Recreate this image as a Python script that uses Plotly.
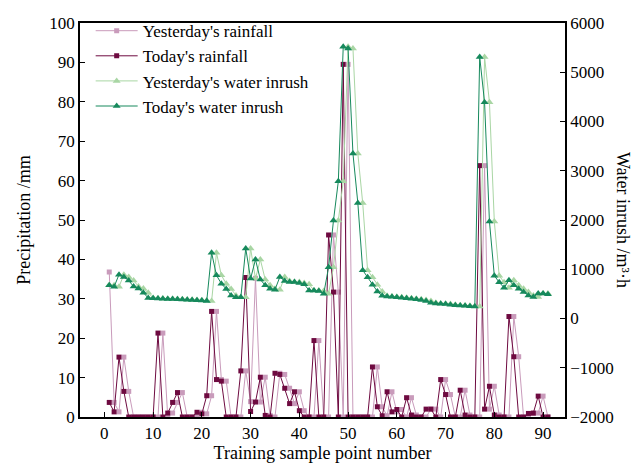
import plotly.graph_objects as go

x_points = list(range(1, 92))

today_rain = [3.7, 1.3, 15.2, 6.5, 0, 0, 0, 0, 0, 0,
              21.3, 0, 1.0, 3.7, 6.2, 0, 0, 0, 1.2, 0.8,
              5.4, 26.8, 9.5, 9.1, 0, 0, 0, 11.7, 35.4, 1.4,
              3.8, 10.1, 0.4, 0, 11.1, 10.8, 7.3, 3.4, 6.4, 1.6,
              0, 0, 19.4, 0, 0, 46.2, 31.7, 0, 89.5, 0,
              0, 0, 0, 0, 12.7, 2.6, 0.3, 6.4, 1.3, 1.9,
              0, 4.9, 0.5, 0, 0, 2.0, 2.0, 0, 9.5, 5.7,
              0, 0, 6.8, 0.5, 0, 0, 63.8, 2.0, 7.8, 0.5,
              0, 0, 25.5, 15.3, 0, 0, 0.9, 1.0, 5.3, 0,
              0]
yesterday_rain = [36.8, 3.7, 1.3, 15.2, 6.5, 0, 0, 0, 0, 0,
                  0, 21.3, 0, 1.0, 3.7, 6.2, 0, 0, 0, 1.2,
                  0.8, 5.4, 26.8, 9.5, 9.1, 0, 0, 0, 11.7, 3.9,
                  35.2, 3.8, 10.1, 0.4, 0, 11.1, 10.8, 7.3, 3.4, 6.4,
                  1.6, 0, 0, 19.4, 0, 0, 46.2, 31.7, 0, 89.5,
                  0, 0, 0, 0, 0, 12.7, 2.6, 0.3, 6.4, 1.3,
                  1.9, 0, 4.9, 0.5, 0, 0, 2.0, 2.0, 0, 9.5,
                  5.7, 0, 0, 6.8, 0.5, 0, 0, 63.8, 2.0, 7.8,
                  0.5, 0, 0, 25.5, 15.3, 0, 0, 0.9, 1.0, 5.3,
                  0]

today_inrush = [673, 645, 890, 844, 770, 650, 610, 525, 415, 410,
                405, 400, 398, 395, 390, 385, 380, 375, 370, 365,
                355, 1335, 877, 708, 600, 469, 430, 430, 1423, 810,
                1198, 790, 673, 605, 585, 844, 760, 742, 740, 721,
                694, 571, 571, 557, 505, 1040, 1990, 2788, 5516, 5480,
                3348, 2345, 981, 836, 683, 550, 460, 445, 440, 430,
                420, 410, 400, 390, 375, 355, 320, 305, 300, 295,
                280, 270, 265, 258, 250, 245, 5311, 4390, 1969, 870,
                735, 626, 776, 673, 605, 537, 469, 435, 510, 510,
                490]
yesterday_inrush = [680, 673, 645, 890, 844, 770, 650, 610, 525, 415,
                    410, 405, 400, 398, 395, 390, 385, 380, 375, 370,
                    365, 355, 1335, 877, 708, 600, 469, 430, 430, 1423,
                    810, 1198, 790, 673, 605, 585, 844, 760, 742, 740,
                    721, 694, 571, 571, 557, 505, 1040, 1990, 2788, 5516,
                    5480, 3348, 2345, 981, 836, 683, 550, 460, 445, 440,
                    430, 420, 410, 400, 390, 375, 355, 320, 305, 300,
                    295, 280, 270, 265, 258, 250, 245, 5311, 4390, 1969,
                    870, 735, 626, 776, 673, 605, 537, 469, 435, 510,
                    510]

x_ticks = [0, 10, 20, 30, 40, 50, 60, 70, 80, 90]
left_ticks = [0, 10, 20, 30, 40, 50, 60, 70, 80, 90, 100]
right_ticks = [-2000, -1000, 0, 1000, 2000, 3000, 4000, 5000, 6000]

C_YR = "#C99BBB"
C_TR = "#6E0A40"
C_YI = "#A9D6A4"
C_TI = "#16895C"

FONT = "Liberation Serif"

fig = go.Figure()
fig.add_trace(go.Scatter(x=x_points, y=yesterday_rain, name="Yesterday's rainfall",
                         mode="lines+markers", line=dict(color=C_YR, width=1),
                         marker=dict(symbol="square", size=5, color=C_YR)))
fig.add_trace(go.Scatter(x=x_points, y=today_rain, name="Today's rainfall",
                         mode="lines+markers", line=dict(color=C_TR, width=1),
                         marker=dict(symbol="square", size=5, color=C_TR)))
fig.add_trace(go.Scatter(x=x_points, y=yesterday_inrush, name="Yesterday's water inrush",
                         mode="lines+markers", line=dict(color=C_YI, width=1),
                         marker=dict(symbol="triangle-up", size=7, color=C_YI),
                         yaxis="y2"))
fig.add_trace(go.Scatter(x=x_points, y=today_inrush, name="Today's water inrush",
                         mode="lines+markers", line=dict(color=C_TI, width=1),
                         marker=dict(symbol="triangle-up", size=7, color=C_TI),
                         yaxis="y2"))

axis_common = dict(showline=True, linecolor="black", linewidth=1.5,
                   ticks="inside", ticklen=5, tickcolor="black", tickwidth=1,
                   showgrid=False, zeroline=False, automargin=False,
                   tickfont=dict(family=FONT, size=17, color="black"))

fig.update_layout(
    width=642, height=464,
    margin=dict(l=72, r=85, t=15, b=55, autoexpand=False),
    plot_bgcolor="white", paper_bgcolor="white",
    font=dict(family=FONT, size=18, color="black"),
    showlegend=True,
    legend=dict(x=0.022, y=1.025, xanchor="left", yanchor="top",
                bgcolor="rgba(0,0,0,0)", borderwidth=0,
                font=dict(family=FONT, size=17, color="black"),
                tracegroupgap=0, itemwidth=42),
    xaxis=dict(range=[-5, 94.5], tickvals=x_ticks, mirror=True,
               title=dict(text="Training sample point number", standoff=4,
                          font=dict(family=FONT, size=18)),
               **axis_common),
    yaxis=dict(range=[0, 100], tickvals=left_ticks,
               title=dict(text="Precipitation /mm", standoff=14,
                          font=dict(family=FONT, size=18)),
               **axis_common),
    yaxis2=dict(range=[-2000, 6000], tickvals=right_ticks, overlaying="y", side="right",
                **axis_common),
    annotations=[dict(text="Water inrush /m³·h", xref="paper", yref="paper",
                      x=1, y=0.5, xanchor="center", yanchor="middle",
                      xshift=58, textangle=90, showarrow=False,
                      font=dict(family=FONT, size=18, color="black"))],
)

fig.write_html("out.html")
